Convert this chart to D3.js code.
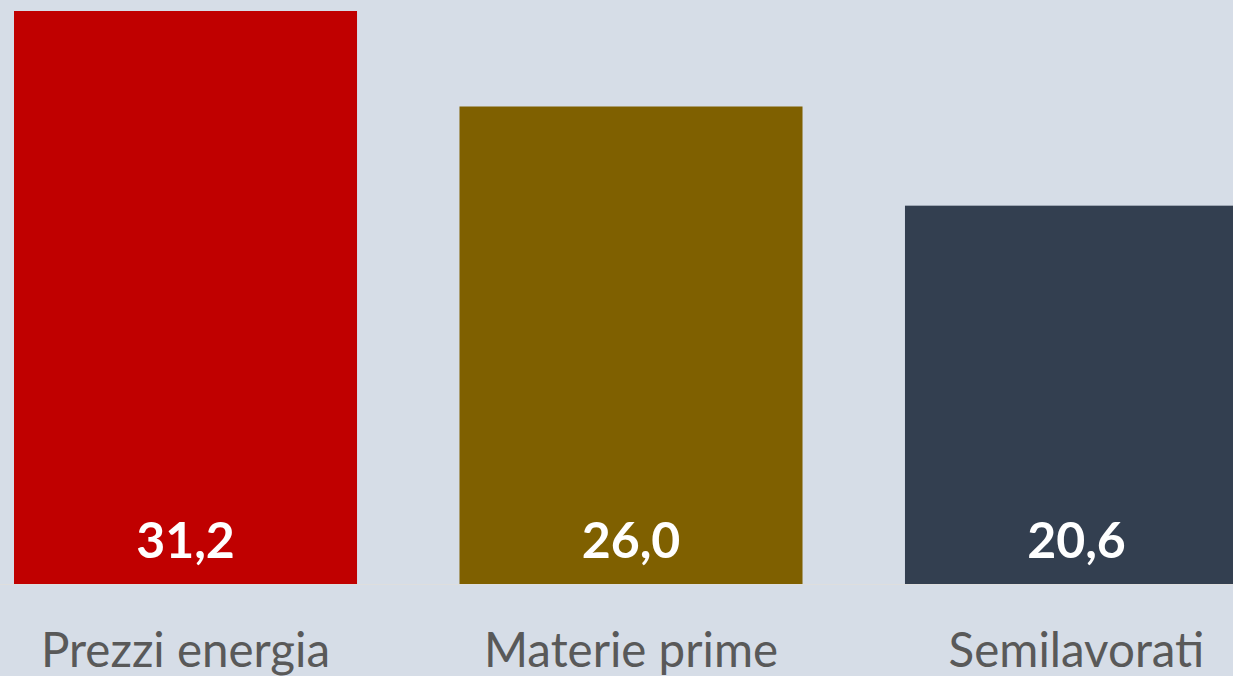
<!DOCTYPE html>
<html lang="it">
<head>
<meta charset="UTF-8">
<title>Bar chart</title>
<script src="https://cdn.jsdelivr.net/npm/d3@7"></script>
<style>
  html, body { margin: 0; padding: 0; background: #d6dde7; overflow: hidden; }
</style>
</head>
<body>
<script>
var categories = ["Prezzi energia", "Materie prime", "Semilavorati"],
    values = [31.2, 26.0, 20.6],
    colors = ["#c00000", "#7f6000", "#333f50"],
    w = 1233,
    h = 676,
    baseY = 584,
    topY = 11;

var svg = d3.select("body")
    .append("svg")
    .attr("width", w)
    .attr("height", h);

svg.append("rect")
    .attr("width", w)
    .attr("height", h)
    .attr("fill", "#d6dde7");

var x = d3.scaleBand()
    .domain(categories)
    .range([14, 1248])
    .paddingInner(0.23)
    .paddingOuter(0);

var y = d3.scaleLinear()
    .domain([0, d3.max(values)])
    .range([baseY, topY]);

// baseline
svg.append("line")
    .attr("x1", 0)
    .attr("x2", w)
    .attr("y1", baseY + 0.5)
    .attr("y2", baseY + 0.5)
    .attr("stroke", "#dedede")
    .attr("stroke-width", 1);

svg.selectAll("rect.bar")
    .data(values)
    .enter()
    .append("rect")
    .attr("class", "bar")
    .attr("x", function(d, i) { return x(categories[i]); })
    .attr("y", function(d) { return y(d); })
    .attr("width", x.bandwidth())
    .attr("height", function(d) { return baseY - y(d); })
    .attr("fill", function(d, i) { return colors[i]; });

svg.selectAll("text.val")
    .data(values)
    .enter()
    .append("text")
    .attr("class", "val")
    .text(function(d) { return d.toFixed(1).replace(".", ","); })
    .attr("x", function(d, i) { return x(categories[i]) + x.bandwidth() / 2; })
    .attr("y", 558)
    .attr("text-anchor", "middle")
    .attr("font-family", "Lato, sans-serif")
    .attr("font-weight", "bold")
    .attr("font-size", "50px")
    .attr("fill", "white");

svg.selectAll("text.cat")
    .data(categories)
    .enter()
    .append("text")
    .attr("class", "cat")
    .text(function(d) { return d; })
    .attr("x", function(d) { return x(d) + x.bandwidth() / 2; })
    .attr("y", 667)
    .attr("text-anchor", "middle")
    .attr("font-family", "Lato, sans-serif")
    .attr("font-size", "47.5px")
    .attr("fill", "#595959");
</script>
</body>
</html>
